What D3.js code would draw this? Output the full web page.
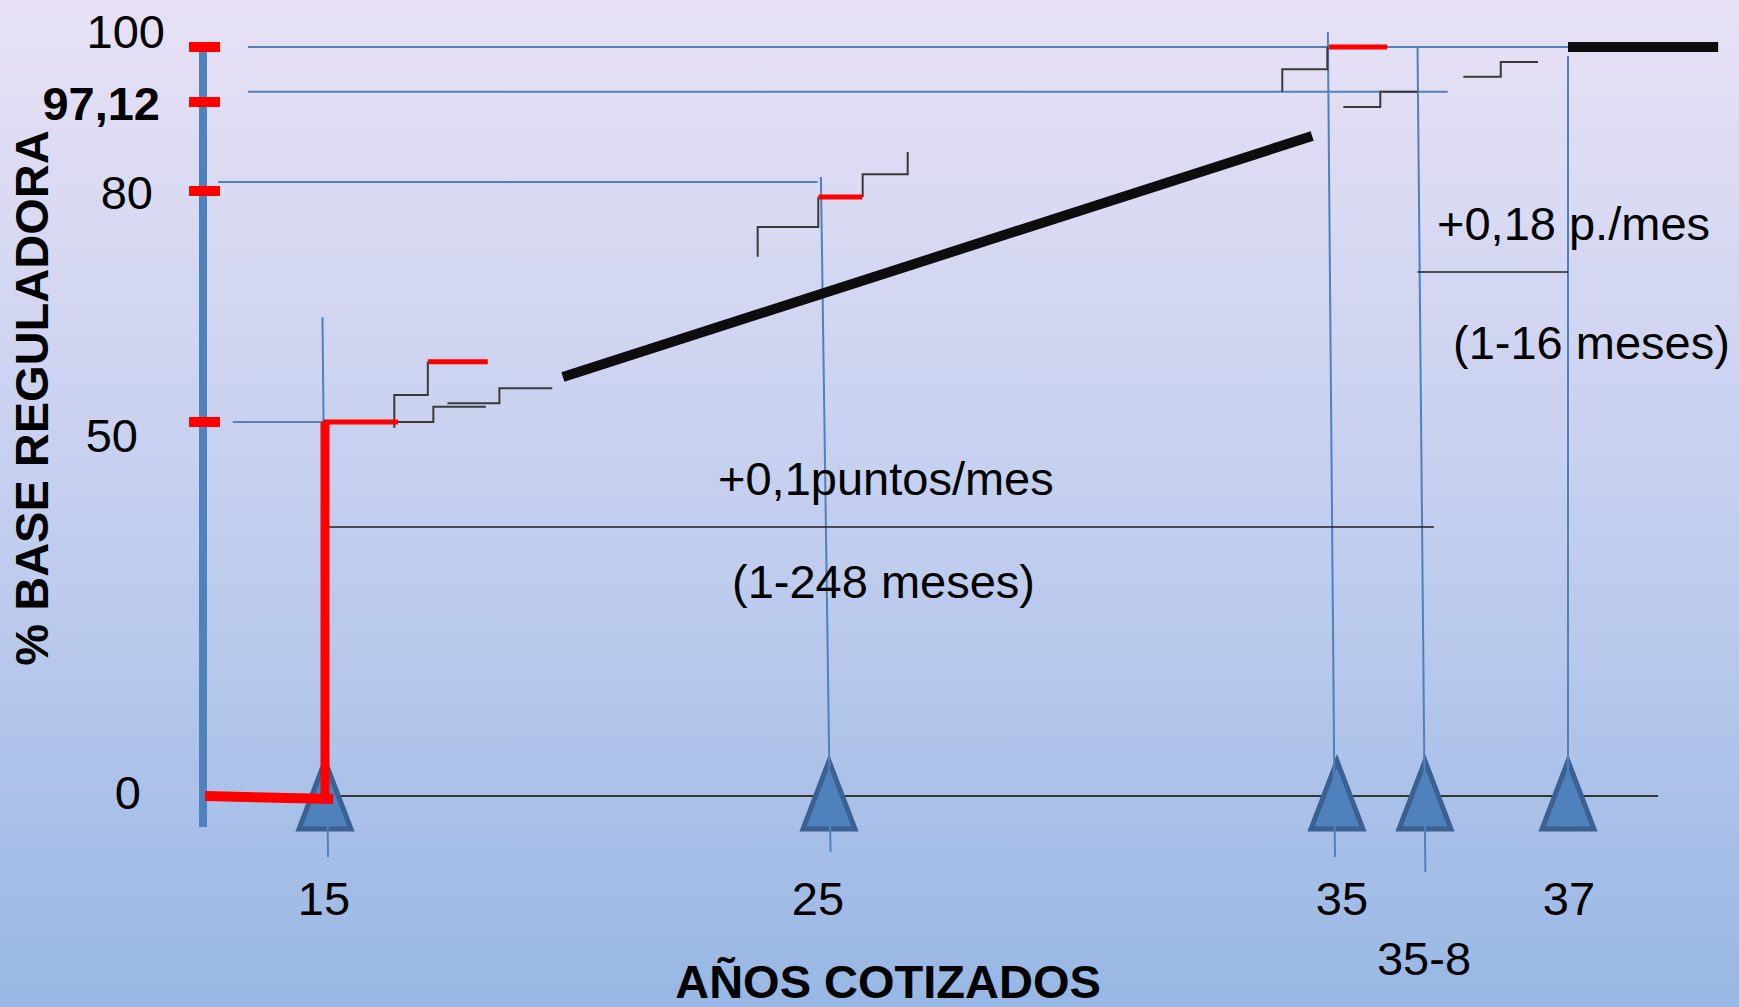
<!DOCTYPE html>
<html>
<head>
<meta charset="utf-8">
<script src="https://cdn.jsdelivr.net/npm/d3@7/dist/d3.min.js"></script>
<style>
body { margin: 0; overflow: hidden; }
text { font-family: "Liberation Sans", Arial, sans-serif; fill: #000; }
</style>
</head>
<body>
<div id="mainContainer"><svg></svg></div>
<script>
// ---- data (years cotizados / % base reguladora) ----
const xTickYears = [15, 25, 35, 35 + 8 / 12, 37];
const xTickLabels = ["15", "25", "35", "35-8", "37"];
const yTickValues = [100, 97.12, 80, 50, 0];
const yTickLabels = ["100", "97,12", "80", "50", "0"];

// red: jump to 50% at 15 years
const redFloor = [[12.62, 0], [15.16, -0.4]];
const redJump = [[15, -0.4], [15, 50]];
const redSteps = [
    [[14.96, 50], [16.45, 50]],
    [[17.04, 57.83], [18.23, 57.83]],
    [[24.79, 79.22], [25.66, 79.22]],
    [[34.84, 100], [35.38, 100]]
];
// black trend lines
const blackTrend = [[19.72, 55.84], [34.51, 90.58]];
const blackTop = [[37, 100], [38.4, 100]];
// little monthly staircases
const monthSteps = [
    [[16.375, 49.24], [16.375, 53.51], [17.04, 53.51], [17.04, 57.83]],
    [[16.11, 50], [17.15, 50], [17.15, 51.99], [18.19, 51.99]],
    [[17.43, 52.43], [18.46, 52.43], [18.46, 54.38], [19.51, 54.38]],
    [[23.585, 71.47], [23.585, 75.32], [24.787, 75.32], [24.787, 79.22]],
    [[25.663, 79.22], [25.663, 83.21], [26.549, 83.21], [26.549, 87.5]],
    [[33.923, 97.66], [33.923, 98.83], [34.809, 98.83], [34.809, 100]],
    [[35.048, 96.16], [35.328, 96.16], [35.328, 97.66], [35.611, 97.66]],
    [[36.024, 98.44], [36.373, 98.44], [36.373, 99.21], [36.721, 99.21]]
];
// blue guides: [value, fromYear, toYear]
const hGuides = [
    [100, 13.47, 37],
    [97.66, 13.47, 35.879],
    [81.73, 12.88, 24.775],
    [50, 13.17, 15.56]
];
// blue verticals: [bottomYear, topYear, bottomValue, topValue]
const vGuides = [
    [15.06, 14.95, -8.16, 63.64],
    [25.03, 24.84, -7.49, 82.69],
    [34.96, 34.82, -8.16, 100.79],
    [35.67, 35.61, -10.16, 100],
    [37, 37, -4.14, 99.53]
];
// black brackets for the rates: [value, fromYear, toYear]
const rateLines = [
    [35.96, 15.06, 35.75],
    [69.48, 35.61, 37]
];
const zeroLine = [[15.16, 0], [37.84, 0]];
const axisRange = [-4.14, 99.85];

const SVG_WIDTH = 1739;
const SVG_HEIGHT = 1007;
const AXIS_X = 203;
const FONT = 47;

const svg = d3.select('#mainContainer').select('svg')
    .attr('width', SVG_WIDTH)
    .attr('height', SVG_HEIGHT);

// background gradient
const grad = svg.append('defs').append('linearGradient')
    .attr('id', 'bg').attr('x1', 0).attr('y1', 0).attr('x2', 0).attr('y2', 1);
grad.append('stop').attr('offset', '0%').attr('stop-color', '#e8e1f5');
grad.append('stop').attr('offset', '55%').attr('stop-color', '#c0cdee');
grad.append('stop').attr('offset', '100%').attr('stop-color', '#98b7e4');
svg.append('rect').attr('width', SVG_WIDTH).attr('height', SVG_HEIGHT).attr('fill', 'url(#bg)');

// schematic (piecewise) scales
const x = d3.scaleLinear().domain(xTickYears).range([325, 829, 1337, 1425, 1568]);
const y = d3.scaleLinear().domain([0, 50, 80, 97.12, 100]).range([796, 422, 191, 102, 47]);
const line = d3.line().x(d => x(d[0])).y(d => y(d[1]));

// zero line
svg.append('path').datum(zeroLine).attr('d', line)
    .attr('stroke', '#333').attr('stroke-width', 2).attr('fill', 'none');

// triangles on the year ticks
const TRI_W = 52, TRI_H = 68;
svg.selectAll('path.tri').data(xTickYears).enter().append('path')
    .attr('class', 'tri')
    .attr('d', `M0,${-TRI_H} L${TRI_W / 2},0 L${-TRI_W / 2},0 Z`)
    .attr('transform', d => `translate(${x(d)},${y(-4.41)})`)
    .attr('fill', '#4f81bd')
    .attr('stroke', '#3a6191')
    .attr('stroke-width', 5)
    .attr('stroke-linejoin', 'miter');

// blue guides
svg.selectAll('line.hg').data(hGuides).enter().append('line')
    .attr('x1', d => x(d[1])).attr('x2', d => x(d[2]))
    .attr('y1', d => y(d[0])).attr('y2', d => y(d[0]))
    .attr('stroke', '#4f81bd').attr('stroke-width', 2);
svg.selectAll('line.vg').data(vGuides).enter().append('line')
    .attr('x1', d => x(d[0])).attr('x2', d => x(d[1]))
    .attr('y1', d => y(d[2])).attr('y2', d => y(d[3]))
    .attr('stroke', '#4f81bd').attr('stroke-width', 2);

// rate brackets
svg.selectAll('line.rate').data(rateLines).enter().append('line')
    .attr('x1', d => x(d[1])).attr('x2', d => x(d[2]))
    .attr('y1', d => y(d[0])).attr('y2', d => y(d[0]))
    .attr('stroke', '#222').attr('stroke-width', 1.5);

// monthly staircases
svg.selectAll('path.step').data(monthSteps).enter().append('path')
    .attr('d', line)
    .attr('fill', 'none').attr('stroke', '#3a3a3a').attr('stroke-width', 2);

// black trend
svg.append('path').datum(blackTrend).attr('d', line)
    .attr('stroke', '#0d0d0d').attr('stroke-width', 10).attr('fill', 'none');
svg.append('path').datum(blackTop).attr('d', line)
    .attr('stroke', '#0d0d0d').attr('stroke-width', 10).attr('fill', 'none');

// y axis
svg.append('line')
    .attr('x1', AXIS_X).attr('x2', AXIS_X)
    .attr('y1', y(axisRange[1])).attr('y2', y(axisRange[0]))
    .attr('stroke', '#4f81bd').attr('stroke-width', 8);
svg.selectAll('rect.ytick').data(yTickValues.filter(v => v > 0)).enter().append('rect')
    .attr('x', AXIS_X - 14).attr('width', 31)
    .attr('y', d => y(d) - 5).attr('height', 10)
    .attr('fill', '#ff0000');

// red path
svg.append('path').datum(redFloor).attr('d', line)
    .attr('stroke', '#ff0000').attr('stroke-width', 10).attr('fill', 'none');
svg.append('path').datum(redJump).attr('d', line)
    .attr('stroke', '#ff0000').attr('stroke-width', 9).attr('fill', 'none');
svg.selectAll('path.red').data(redSteps).enter().append('path')
    .attr('d', line)
    .attr('stroke', '#ff0000').attr('stroke-width', 5).attr('fill', 'none');

// y tick labels (hand placed in the original)
const yLabelRight = [165, 160, 153, 138, 141];
const yLabelDy = [1, 18, 18, 30, 13];
svg.selectAll('text.ylab').data(yTickValues).enter().append('text')
    .attr('x', (d, i) => yLabelRight[i])
    .attr('y', (d, i) => y(d) + yLabelDy[i])
    .attr('text-anchor', 'end')
    .attr('font-size', FONT)
    .attr('font-weight', (d, i) => yTickLabels[i] === "97,12" ? 'bold' : 'normal')
    .text((d, i) => yTickLabels[i]);

// x tick labels
const xLabelDx = [-1, -11, 5, -1, 1];
const xLabelBase = [915, 915, 915, 975, 915];
svg.selectAll('text.xlab').data(xTickYears).enter().append('text')
    .attr('x', (d, i) => x(d) + xLabelDx[i])
    .attr('y', (d, i) => xLabelBase[i])
    .attr('text-anchor', 'middle')
    .attr('font-size', FONT)
    .text((d, i) => xTickLabels[i]);

// axis titles
svg.append('text')
    .attr('transform', 'translate(48,398) rotate(-90)')
    .attr('text-anchor', 'middle')
    .attr('font-size', FONT)
    .attr('font-weight', 'bold')
    .text('% BASE REGULADORA');
svg.append('text')
    .attr('x', 888).attr('y', 998)
    .attr('text-anchor', 'middle')
    .attr('font-size', FONT)
    .attr('font-weight', 'bold')
    .text('AÑOS COTIZADOS');

// rate notes
const notes = [
    ["+0,1puntos/mes", 718, 495],
    ["(1-248 meses)", 732, 598],
    ["+0,18 p./mes", 1437, 240],
    ["(1-16 meses)", 1453, 359]
];
svg.selectAll('text.note').data(notes).enter().append('text')
    .attr('x', d => d[1]).attr('y', d => d[2])
    .attr('font-size', FONT)
    .text(d => d[0]);
</script>
</body>
</html>
